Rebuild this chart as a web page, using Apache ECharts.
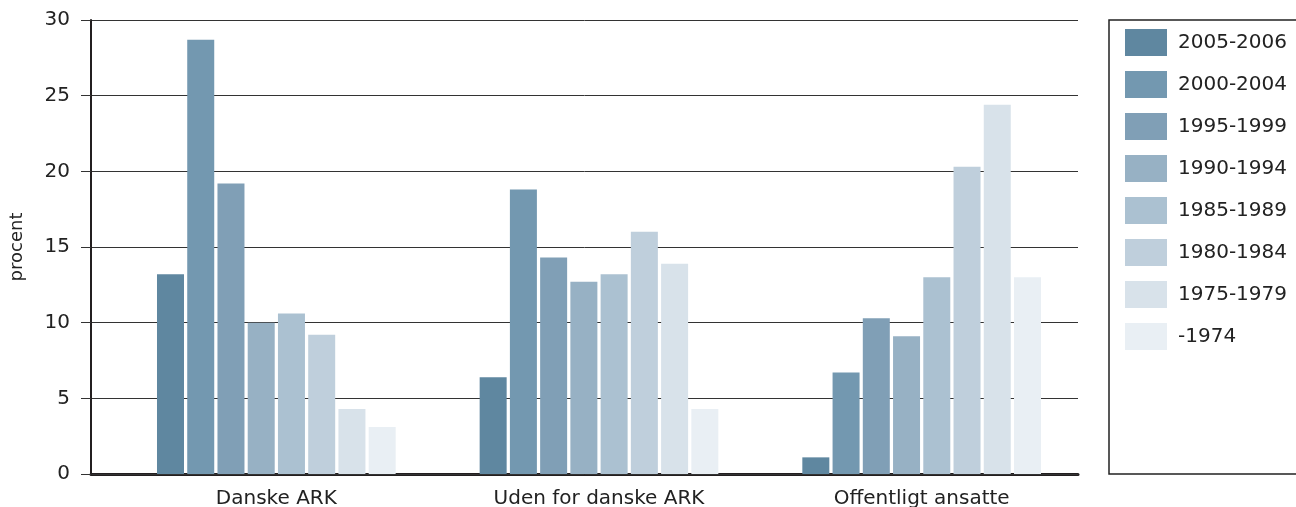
<!DOCTYPE html>
<html>
<head>
<meta charset="utf-8">
<script src="https://cdn.jsdelivr.net/npm/echarts@6/dist/echarts.min.js"></script>
<style>html,body{margin:0;padding:0;background:#fff}#c{width:1296px;height:507px}</style>
</head>
<body>
<div id="c"></div>
<script>
var categories = ['Danske ARK', 'Uden for danske ARK', 'Offentligt ansatte'];
var seriesNames = ['2005-2006', '2000-2004', '1995-1999', '1990-1994', '1985-1989', '1980-1984', '1975-1979', '-1974'];
var s2005 = [13.2, 6.4, 1.1];
var s2000 = [28.7, 18.8, 6.7];
var s1995 = [19.2, 14.3, 10.3];
var s1990 = [10.0, 12.7, 9.1];
var s1985 = [10.6, 13.2, 13.0];
var s1980 = [9.2, 16.0, 20.3];
var s1975 = [4.3, 13.9, 24.4];
var s1974 = [3.1, 4.3, 13.0];
var yTicks = [0, 5, 10, 15, 20, 25, 30];
var colors = ['#5f87a0', '#7398b0', '#809fb6', '#97b1c4', '#abc1d1', '#bfcfdc', '#d8e2ea', '#e9eff4'];
var allValues = [s2005, s2000, s1995, s1990, s1985, s1980, s1975, s1974];

var FONT = 'DejaVu Sans';
var chart = echarts.init(document.getElementById('c'));
var series = seriesNames.map(function (n, i) {
  return {
    name: n, type: 'bar', xAxisIndex: 0, yAxisIndex: 0,
    data: allValues[i], barWidth: 27, barGap: '12%',
    itemStyle: { color: colors[i] }, emphasis: { disabled: true }
  };
});
chart.setOption({
  animation: false,
  textStyle: { fontFamily: FONT },
  grid: [
    { left: 115, right: 213, top: 20, bottom: 33, containLabel: false, outerBoundsMode: 'none' },
    { left: 91, right: 218, top: 20, bottom: 33, containLabel: false, outerBoundsMode: 'none' }
  ],
  xAxis: [
    { type: 'category', gridIndex: 0, data: categories,
      axisLine: { show: false }, axisTick: { show: false },
      axisLabel: { fontSize: 20, color: '#222', margin: 15, fontFamily: FONT } },
    { type: 'category', gridIndex: 1, data: [''],
      axisLine: { show: true, lineStyle: { color: '#231f20', width: 3 } },
      axisTick: { show: false }, axisLabel: { show: false } }
  ],
  yAxis: [
    { type: 'value', gridIndex: 0, min: 0, max: 30, interval: 5, show: false, splitLine: { show: false } },
    { type: 'value', gridIndex: 1, min: 0, max: 30, interval: 5, z: 1,
      name: 'procent', nameLocation: 'middle', nameGap: 65, nameRotate: 90,
      nameTextStyle: { fontSize: 18, color: '#222', fontFamily: FONT },
      axisLine: { show: true, lineStyle: { color: '#231f20', width: 2 } },
      axisTick: { show: true, length: 10, lineStyle: { color: '#333', width: 1 } },
      axisLabel: { fontSize: 20, color: '#222', margin: 21, fontFamily: FONT,
        formatter: function (v) { return yTicks.indexOf(v) >= 0 ? String(v) : ''; } },
      splitLine: { show: true, lineStyle: { color: '#333', width: 1 } } }
  ],
  legend: {
    orient: 'vertical', left: 1120, top: 24, itemGap: 15, itemWidth: 42, itemHeight: 27,
    icon: 'rect', data: seriesNames, selectedMode: false,
    textStyle: { fontSize: 20, color: '#222', fontFamily: FONT, padding: [0, 0, 0, 6] }
  },
  graphic: [
    { type: 'rect', shape: { x: 1109, y: 20, width: 200, height: 454 },
      style: { fill: 'none', stroke: '#222', lineWidth: 1.5 }, silent: true }
  ],
  series: series
});
</script>
</body>
</html>
